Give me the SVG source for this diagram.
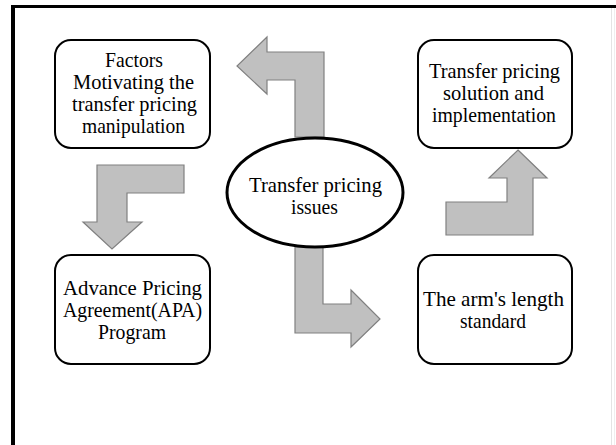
<svg xmlns="http://www.w3.org/2000/svg" width="616" height="445" viewBox="0 0 616 445">
<style>
.box{fill:#fff;stroke:#000;stroke-width:2}
.arr{fill:#c0c0c0;stroke:#808080;stroke-width:1.2;stroke-linejoin:miter}
text{font-family:"Liberation Serif","Times New Roman",serif;font-size:22px;fill:#000;text-anchor:middle}
</style>
<rect width="616" height="445" fill="#fff"/>
<g id="frame">
<line x1="13" y1="5" x2="13" y2="445" stroke="#000" stroke-width="4"/>
<line x1="11" y1="6.5" x2="616" y2="6.5" stroke="#000" stroke-width="3"/>
<line x1="611.5" y1="8" x2="611.5" y2="445" stroke="#e4e4e4" stroke-width="1"/>
<line x1="614.5" y1="8" x2="614.5" y2="445" stroke="#eeeeee" stroke-width="1"/>
</g>
<g id="connectors">
<polygon class="arr" points="324,137 324,52 267,52 267,37 237,66 267,94 267,80 295,80 295,137"/>
<polygon class="arr" points="295,247 323,247 323,304 351,304 351,290 380,319 351,347 351,333 295,333"/>
<polygon class="arr" points="184,165 97,165 97,222 83,222 112,249 142,222 127,222 127,193 184,193"/>
<polygon class="arr" points="518,150 547,178 533,178 533,235 446,235 446,202 507,202 507,178 489,178"/>
</g>
<g id="center">
<ellipse cx="315" cy="192.5" rx="88" ry="54.5" fill="#fff" stroke="#000" stroke-width="3"/>
<text x="315.5" y="192" textLength="133" lengthAdjust="spacingAndGlyphs">Transfer pricing</text>
<text x="314.5" y="214" textLength="47" lengthAdjust="spacingAndGlyphs">issues</text>
</g>
<g id="factors">
<rect class="box" x="55" y="40" width="155" height="108" rx="16"/>
<text x="134" y="67" textLength="58" lengthAdjust="spacingAndGlyphs">Factors</text>
<text x="133.5" y="89" textLength="121" lengthAdjust="spacingAndGlyphs">Motivating the</text>
<text x="134.5" y="111" textLength="125" lengthAdjust="spacingAndGlyphs">transfer pricing</text>
<text x="133.5" y="133" textLength="103" lengthAdjust="spacingAndGlyphs">manipulation</text>
</g>
<g id="solution">
<rect class="box" x="418" y="40" width="154" height="108" rx="16"/>
<text x="494.5" y="78" textLength="131" lengthAdjust="spacingAndGlyphs">Transfer pricing</text>
<text x="493.5" y="100" textLength="101" lengthAdjust="spacingAndGlyphs">solution and</text>
<text x="494" y="122" textLength="124" lengthAdjust="spacingAndGlyphs">implementation</text>
</g>
<g id="apa">
<rect class="box" x="55" y="255" width="155" height="109" rx="16"/>
<text x="132.5" y="295" textLength="139" lengthAdjust="spacingAndGlyphs">Advance Pricing</text>
<text x="132.5" y="317" textLength="139" lengthAdjust="spacingAndGlyphs">Agreement(APA)</text>
<text x="132" y="339" textLength="68" lengthAdjust="spacingAndGlyphs">Program</text>
</g>
<g id="armslength">
<rect class="box" x="418" y="255" width="154" height="109" rx="16"/>
<text x="493.5" y="306" textLength="141" lengthAdjust="spacingAndGlyphs">The arm's length</text>
<text x="493" y="328" textLength="66" lengthAdjust="spacingAndGlyphs">standard</text>
</g>
</svg>
